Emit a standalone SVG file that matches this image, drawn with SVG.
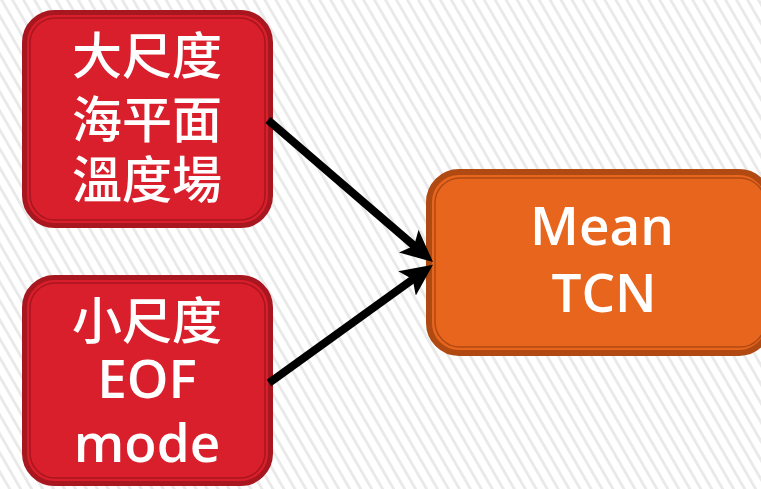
<svg xmlns="http://www.w3.org/2000/svg" width="761" height="489" viewBox="0 0 761 489">
  <defs>
    <pattern id="stripes" patternUnits="userSpaceOnUse" width="9.5" height="20" patternTransform="rotate(-30)">
      <rect width="9.5" height="20" fill="#ffffff"/>
      <rect x="0" y="0" width="2.8" height="20" fill="#e9e9e9"/>
    </pattern>
    <marker id="head" markerUnits="userSpaceOnUse" markerWidth="34" markerHeight="30" refX="18" refY="15" orient="auto">
      <path d="M0,0 L32,15 L0,30 L7,15 Z" fill="#000000"/>
    </marker>
  </defs>
  <style>
    .red { fill: #d91f2b; stroke: #a8161f; stroke-width: 5; }
    .red-inner { fill: none; stroke: #a8161f; stroke-width: 1.5; }
    .orange { fill: #e8651e; stroke: #b04a12; stroke-width: 6; }
    .orange-inner { fill: none; stroke: #b04a12; stroke-width: 1.5; }
    .cjk { font-family: "Noto Sans CJK TC", "Noto Sans CJK SC", sans-serif; font-size: 50px; font-weight: 500; fill: #ffffff; text-anchor: middle; }
    .lat { font-family: "Open Sans", "Noto Sans", sans-serif; font-size: 53px; font-weight: 600; fill: #ffffff; text-anchor: middle; }
    .conn { stroke: #000000; stroke-width: 8; fill: none; marker-end: url(#head); }
  </style>

  <rect width="761" height="489" fill="url(#stripes)"/>

  <g id="node-large-scale">
    <rect class="red" x="24.5" y="12.5" width="246" height="213" rx="30"/>
    <rect class="red-inner" x="30" y="18" width="235" height="202" rx="25"/>
    <text class="cjk" x="147" y="74">大尺度</text>
    <text class="cjk" x="147" y="138">海平面</text>
    <text class="cjk" x="147" y="198">溫度場</text>
  </g>

  <g id="node-small-scale">
    <rect class="red" x="24.5" y="277.5" width="246" height="206" rx="30"/>
    <rect class="red-inner" x="30" y="283" width="235" height="195" rx="25"/>
    <text class="cjk" x="147" y="339">小尺度</text>
    <text class="lat" x="147" y="398">EOF</text>
    <text class="lat" x="147" y="462">mode</text>
  </g>

  <g id="node-mean-tcn">
    <rect class="orange" x="429" y="172" width="340" height="181" rx="30"/>
    <rect class="orange-inner" x="435" y="178" width="330" height="169" rx="25"/>
    <text class="lat" x="602" y="245">Mean</text>
    <text class="lat" x="604" y="312">TCN</text>
  </g>

  <g id="connectors">
    <line class="conn" x1="268" y1="120" x2="422.4" y2="252.9"/>
    <line class="conn" x1="269" y1="383" x2="421.6" y2="272.9"/>
  </g>
</svg>
